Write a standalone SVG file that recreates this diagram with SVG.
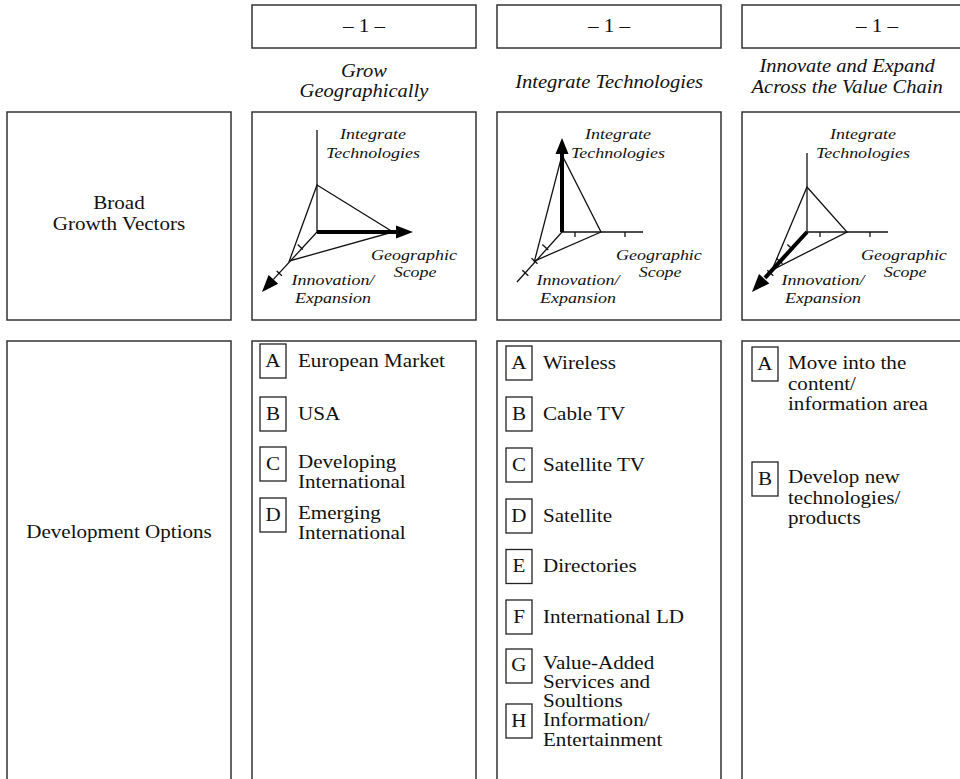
<svg xmlns="http://www.w3.org/2000/svg" width="960" height="779" viewBox="0 0 960 779">
<style>
  .box{fill:#fff;stroke:#333;stroke-width:1.5}
  .ib{fill:#fff;stroke:#222;stroke-width:1.3}
  text{font-family:"Liberation Serif","Times New Roman",serif;fill:#111;transform-box:fill-box}
  .b{font-size:18.5px;transform-origin:0 50%;transform:scaleX(1.14)}
  .c{text-anchor:middle;transform-origin:50% 50%}
  .h{font-size:18px;font-style:italic;text-anchor:middle;transform-origin:50% 50%;transform:scaleX(1.14)}
  .ax{font-size:15.5px;font-style:italic;text-anchor:middle;transform-origin:50% 50%;transform:scaleX(1.16)}
  .ln{stroke:#111;stroke-width:1.3;fill:none}
  .thick{stroke:#000;stroke-width:4;fill:none}
  .ah{fill:#000;stroke:none}
</style>
<rect width="960" height="779" fill="#fff"/>

<!-- Row labels -->
<g id="row-broad">
  <rect class="box" x="7" y="112" width="224" height="208"/>
  <text class="b c" x="119" y="209"><tspan x="119" y="209">Broad</tspan><tspan x="119" y="230">Growth Vectors</tspan></text>
</g>
<g id="row-dev">
  <rect class="box" x="7" y="341" width="224" height="470"/>
  <text class="b c" x="119" y="538">Development Options</text>
</g>

<!-- Column headers -->
<g id="col1-head">
  <rect class="box" x="252" y="5" width="224" height="43"/>
  <text class="b c" x="364" y="32">– 1 –</text>
  <text class="h" x="364" y="77"><tspan x="364" y="77">Grow</tspan><tspan x="364" y="97">Geographically</tspan></text>
</g>
<g id="col2-head">
  <rect class="box" x="497" y="5" width="224" height="43"/>
  <text class="b c" x="609" y="32">– 1 –</text>
  <text class="h" x="609" y="88">Integrate Technologies</text>
</g>
<g id="col3-head">
  <rect class="box" x="742" y="5" width="268" height="43"/>
  <text class="b c" x="877" y="32">– 1 –</text>
  <text class="h" x="847" y="72"><tspan x="847" y="72">Innovate and Expand</tspan><tspan x="847" y="93">Across the Value Chain</tspan></text>
</g>

<!-- Vector diagrams -->
<g id="col1-vector">
  <rect class="box" x="252" y="112" width="224" height="208"/>
  <text class="ax" x="373" y="139"><tspan x="373" y="139">Integrate</tspan><tspan x="373" y="158">Technologies</tspan></text>
  <text class="ax" x="414" y="260"><tspan x="414" y="260">Geographic</tspan><tspan x="415" y="277">Scope</tspan></text>
  <text class="ax" x="333" y="285"><tspan x="333" y="285">Innovation/</tspan><tspan x="333" y="303">Expansion</tspan></text>
  <line class="ln" x1="317" y1="130" x2="317" y2="232"/>
  <polygon class="ln" points="317,185 393,232 289.3,261"/>
  <line class="ln" x1="317" y1="232" x2="273.4" y2="279.4"/>
  <polygon class="ah" points="262,292 278.2,283.8 268.6,275"/>
  <line class="ln" x1="302.9" y1="249.4" x2="297.7" y2="244.6"/>
  <line class="ln" x1="281.9" y1="275.7" x2="276.7" y2="270.9"/>
  <line class="thick" x1="317" y1="232" x2="398" y2="232"/>
  <polygon class="ah" points="413,232 396,225.5 396,238.5"/>
</g>
<g id="col2-vector">
  <rect class="box" x="497" y="112" width="224" height="208"/>
  <text class="ax" x="618" y="139"><tspan x="618" y="139">Integrate</tspan><tspan x="618" y="158">Technologies</tspan></text>
  <text class="ax" x="659" y="260"><tspan x="659" y="260">Geographic</tspan><tspan x="660" y="277">Scope</tspan></text>
  <text class="ax" x="578" y="285"><tspan x="578" y="285">Innovation/</tspan><tspan x="578" y="303">Expansion</tspan></text>
  <polygon class="ln" points="562,155 601,232 534.5,261"/>
  <line class="ln" x1="562" y1="232" x2="643" y2="232"/>
  <line class="ln" x1="575" y1="232" x2="575" y2="237"/>
  <line class="ln" x1="625" y1="232" x2="625" y2="237"/>
  <line class="ln" x1="562" y1="232" x2="517" y2="282"/>
  <line class="ln" x1="548.3" y1="250" x2="542.3" y2="244.6"/>
  <line class="ln" x1="537.5" y1="263.7" x2="531.5" y2="258.3"/>
  <line class="ln" x1="528.3" y1="275.7" x2="522.3" y2="270.3"/>
  <line class="thick" x1="562" y1="232" x2="562" y2="152"/>
  <polygon class="ah" points="562,138 555.5,154 568.5,154"/>
</g>
<g id="col3-vector">
  <rect class="box" x="742" y="112" width="268" height="208"/>
  <text class="ax" x="863" y="139"><tspan x="863" y="139">Integrate</tspan><tspan x="863" y="158">Technologies</tspan></text>
  <text class="ax" x="904" y="260"><tspan x="904" y="260">Geographic</tspan><tspan x="905" y="277">Scope</tspan></text>
  <text class="ax" x="823" y="285"><tspan x="823" y="285">Innovation/</tspan><tspan x="823" y="303">Expansion</tspan></text>
  <line class="ln" x1="807" y1="153" x2="807" y2="232"/>
  <polygon class="ln" points="807,187 847,232 772,270"/>
  <line class="ln" x1="807" y1="232" x2="888" y2="232"/>
  <line class="ln" x1="820" y1="232" x2="820" y2="237"/>
  <line class="ln" x1="870" y1="232" x2="870" y2="237"/>
  <line class="ln" x1="793.3" y1="250" x2="787.3" y2="244.6"/>
  <line class="ln" x1="782.5" y1="263.7" x2="776.5" y2="258.3"/>
  <line class="ln" x1="773.3" y1="275.7" x2="767.3" y2="270.3"/>
  <line class="thick" x1="807" y1="232" x2="765" y2="277.8"/>
  <polygon class="ah" points="752,292 769.4,283.4 759,274"/>
</g>

<!-- Development options -->
<g id="col1-options">
  <rect class="box" x="252" y="341" width="224" height="470"/>
  <g id="col1-A"><rect class="ib" x="260" y="344" width="26" height="34"/><text class="b c" x="273" y="367">A</text><text class="b" x="298" y="367">European Market</text></g>
  <g id="col1-B"><rect class="ib" x="260" y="397" width="26" height="34"/><text class="b c" x="273" y="420">B</text><text class="b" x="298" y="420">USA</text></g>
  <g id="col1-C"><rect class="ib" x="260" y="447" width="26" height="34"/><text class="b c" x="273" y="470">C</text><text class="b" x="298" y="468"><tspan x="298" y="468">Developing</tspan><tspan x="298" y="488.5">International</tspan></text></g>
  <g id="col1-D"><rect class="ib" x="260" y="498" width="26" height="34"/><text class="b c" x="273" y="521">D</text><text class="b" x="298" y="519"><tspan x="298" y="519">Emerging</tspan><tspan x="298" y="539.5">International</tspan></text></g>
</g>
<g id="col2-options">
  <rect class="box" x="497" y="341" width="224" height="470"/>
  <g id="col2-A"><rect class="ib" x="506" y="346" width="26" height="34"/><text class="b c" x="519" y="369">A</text><text class="b" x="543" y="369">Wireless</text></g>
  <g id="col2-B"><rect class="ib" x="506" y="397" width="26" height="34"/><text class="b c" x="519" y="420">B</text><text class="b" x="543" y="420">Cable TV</text></g>
  <g id="col2-C"><rect class="ib" x="506" y="448" width="26" height="34"/><text class="b c" x="519" y="471">C</text><text class="b" x="543" y="471">Satellite TV</text></g>
  <g id="col2-D"><rect class="ib" x="506" y="499" width="26" height="34"/><text class="b c" x="519" y="522">D</text><text class="b" x="543" y="522">Satellite</text></g>
  <g id="col2-E"><rect class="ib" x="506" y="549.5" width="26" height="34"/><text class="b c" x="519" y="572.5">E</text><text class="b" x="543" y="572.5">Directories</text></g>
  <g id="col2-F"><rect class="ib" x="506" y="600" width="26" height="34"/><text class="b c" x="519" y="623">F</text><text class="b" x="543" y="623">International LD</text></g>
  <g id="col2-G"><rect class="ib" x="506" y="649" width="26" height="34"/><text class="b c" x="519" y="671">G</text><text class="b" x="543" y="669"><tspan x="543" y="669">Value-Added</tspan><tspan x="543" y="688">Services and</tspan><tspan x="543" y="707">Soultions</tspan></text></g>
  <g id="col2-H"><rect class="ib" x="506" y="704" width="26" height="34"/><text class="b c" x="519" y="727">H</text><text class="b" x="543" y="726"><tspan x="543" y="726">Information/</tspan><tspan x="543" y="746">Entertainment</tspan></text></g>
</g>
<g id="col3-options">
  <rect class="box" x="742" y="341" width="268" height="470"/>
  <g id="col3-A"><rect class="ib" x="752" y="347" width="26" height="34"/><text class="b c" x="765" y="370">A</text><text class="b" x="788" y="369.5"><tspan x="788" y="369.5">Move into the</tspan><tspan x="788" y="390">content/</tspan><tspan x="788" y="410.5">information area</tspan></text></g>
  <g id="col3-B"><rect class="ib" x="752" y="462" width="26" height="34"/><text class="b c" x="765" y="485">B</text><text class="b" x="788" y="483.5"><tspan x="788" y="483.5">Develop new</tspan><tspan x="788" y="504">technologies/</tspan><tspan x="788" y="524.5">products</tspan></text></g>
</g>
</svg>
